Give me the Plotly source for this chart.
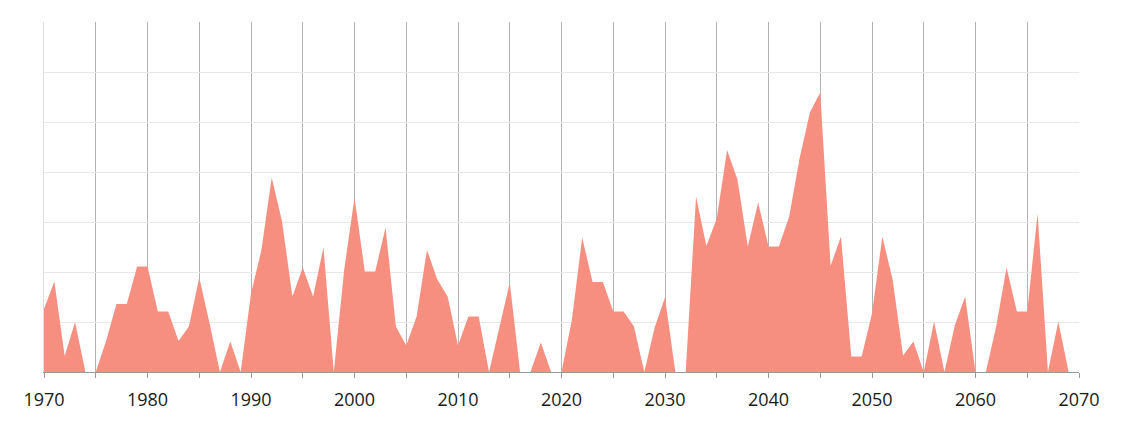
import plotly.graph_objects as go

years = list(range(1970, 2070))
values = [
    1.26, 1.81, 0.32, 1.00, 0.00, 0.00, 0.62, 1.36, 1.36, 2.11,   # 1970s
    2.11, 1.21, 1.21, 0.62, 0.91, 1.89, 0.97, 0.00, 0.61, 0.00,   # 1980s
    1.57, 2.43, 3.89, 3.01, 1.51, 2.09, 1.51, 2.49, 0.00, 2.04,   # 1990s
    3.49, 2.01, 2.01, 2.89, 0.91, 0.53, 1.11, 2.44, 1.85, 1.51,   # 2000s
    0.53, 1.11, 1.11, 0.00, 0.89, 1.79, 0.00, 0.00, 0.59, 0.00,   # 2010s
    0.00, 1.04, 2.69, 1.80, 1.80, 1.21, 1.21, 0.91, 0.00, 0.89,   # 2020s
    1.49, 0.00, 0.00, 3.51, 2.52, 3.07, 4.44, 3.85, 2.51, 3.39,   # 2030s
    2.51, 2.51, 3.11, 4.27, 5.19, 5.59, 2.12, 2.71, 0.31, 0.31,   # 2040s
    1.17, 2.71, 1.84, 0.33, 0.61, 0.00, 1.01, 0.00, 0.93, 1.51,   # 2050s
    0.00, 0.00, 0.91, 2.09, 1.21, 1.21, 3.17, 0.00, 1.01, 0.00,   # 2060s
]
tick_years = list(range(1970, 2071, 5))
tick_labels = [str(y) if y % 10 == 0 else "" for y in tick_years]

fig = go.Figure()
fig.add_trace(go.Scatter(
    x=years, y=values, mode="lines", fill="tozeroy",
    line=dict(width=0, color="#F78F80"), fillcolor="#F78F80",
    hoverinfo="x+y", showlegend=False,
))

fig.update_layout(
    width=1108, height=407,
    margin=dict(l=36, r=37, t=14, b=43),
    paper_bgcolor="white", plot_bgcolor="white",
    font=dict(family="Open Sans, sans-serif", size=18, color="#1a1a1a"),
    xaxis=dict(
        range=[1970, 2070], tickmode="array", tickvals=tick_years, ticktext=tick_labels,
        showgrid=True, gridcolor="#b4b4b4", gridwidth=1,
        showline=True, linecolor="#999999", linewidth=1,
        ticks="outside", ticklen=5, tickcolor="#999999", tickwidth=1,
        ticklabelstandoff=6,
        zeroline=False, layer="above traces", automargin=False,
    ),
    yaxis=dict(
        range=[0, 7], dtick=1, showticklabels=False,
        showgrid=True, gridcolor="#e8e8e8", gridwidth=1,
        showline=True, linecolor="#dddddd", linewidth=1,
        zeroline=False, layer="below traces", automargin=False,
    ),
)

fig.write_html("out.html")
